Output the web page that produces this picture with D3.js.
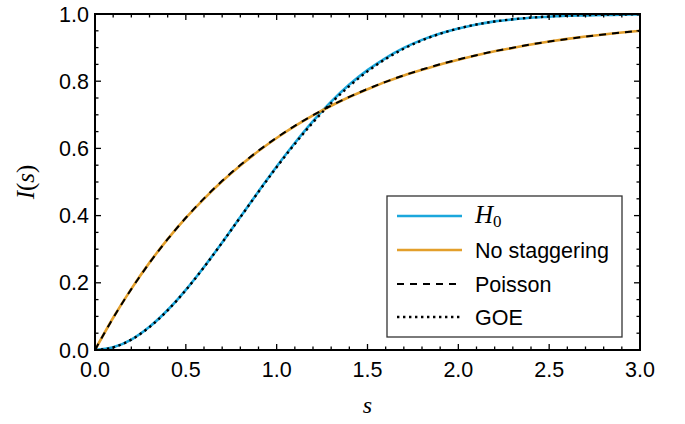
<!DOCTYPE html>
<html><head><meta charset="utf-8">
<script src="https://cdn.jsdelivr.net/npm/d3@7"></script>
<style>body{margin:0;background:#fff}svg{display:block}</style>
</head><body>
<svg id="c" width="685" height="424"></svg>
<script>
const sValues = [0,0.1,0.2,0.3,0.4,0.5,0.6,0.7,0.8,0.9,1.0,1.1,1.2,1.3,1.4,1.5,1.6,1.7,1.8,1.9,2.0,2.1,2.2,2.3,2.4,2.5,2.6,2.7,2.8,2.9,3.0];
const h0Values = [0,0.008,0.031,0.069,0.119,0.179,0.247,0.320,0.396,0.472,0.546,0.616,0.681,0.739,0.790,0.833,0.869,0.899,0.923,0.942,0.957,0.969,0.978,0.984,0.989,0.992,0.995,0.996,0.997,0.998,0.999];
const noStagValues = [0,0.096,0.182,0.260,0.330,0.393,0.450,0.502,0.549,0.592,0.631,0.666,0.698,0.727,0.753,0.776,0.798,0.817,0.834,0.850,0.864,0.877,0.889,0.899,0.909,0.918,0.926,0.933,0.939,0.945,0.950];
const poissonValues = [0,0.0952,0.1813,0.2592,0.3297,0.3935,0.4512,0.5034,0.5507,0.5934,0.6321,0.6671,0.6988,0.7275,0.7534,0.7769,0.7981,0.8173,0.8347,0.8504,0.8647,0.8775,0.8892,0.8997,0.9093,0.9179,0.9257,0.9328,0.9392,0.9450,0.9502];
const goeValues = [0,0.0078,0.0309,0.0682,0.1181,0.1783,0.2463,0.3195,0.3951,0.4707,0.5441,0.6134,0.6773,0.7348,0.7855,0.8292,0.8661,0.8967,0.9215,0.9413,0.9568,0.9687,0.9777,0.9843,0.9892,0.9926,0.9951,0.9967,0.9979,0.9986,0.9991];
const xTicks = [0,0.5,1.0,1.5,2.0,2.5,3.0];
const yTicks = [0,0.2,0.4,0.6,0.8,1.0];
const legendLabels = ["H0","No staggering","Poisson","GOE"];

const svg = d3.select("#c");
const L=95, R=640, T=14, B=350;
const x = d3.scaleLinear().domain([0,3]).range([L,R]);
const y = d3.scaleLinear().domain([0,1]).range([B,T]);

svg.append("clipPath").attr("id","clip").append("rect")
  .attr("x",L).attr("y",T).attr("width",R-L).attr("height",B-T);

const g = svg.append("g").attr("clip-path","url(#clip)");
const line = d3.line().x(d=>x(d[0])).y(d=>y(d[1])).curve(d3.curveMonotoneX);
const zip = v => sValues.map((s,i)=>[s,v[i]]);

const series = [
  {v:h0Values, stroke:"#1ba7dc", w:2.6, dash:null},
  {v:noStagValues, stroke:"#e39f2b", w:2.6, dash:null},
  {v:poissonValues, stroke:"#000", w:2, dash:"7,6"},
  {v:goeValues, stroke:"#000", w:2.4, dash:"2.4,3.6"}
];
series.forEach(s=>{
  g.append("path").datum(zip(s.v)).attr("d",line)
   .attr("fill","none").attr("stroke",s.stroke).attr("stroke-width",s.w)
   .attr("stroke-dasharray",s.dash);
});

const ax = svg.append("g").attr("stroke","#000");
const minorX = d3.range(0,3.0001,0.1), minorY = d3.range(0,1.0001,0.05);
minorX.forEach(v=>{
  const major = Math.abs(v*2-Math.round(v*2))<1e-6;
  const len = major?6:3.5;
  ax.append("line").attr("x1",x(v)).attr("x2",x(v)).attr("y1",B).attr("y2",B-len).attr("stroke-width",1.3);
  ax.append("line").attr("x1",x(v)).attr("x2",x(v)).attr("y1",T).attr("y2",T+len).attr("stroke-width",1.3);
});
minorY.forEach(v=>{
  const major = Math.abs(v*5-Math.round(v*5))<1e-6;
  const len = major?6:3.5;
  ax.append("line").attr("y1",y(v)).attr("y2",y(v)).attr("x1",L).attr("x2",L+len).attr("stroke-width",1.3);
  ax.append("line").attr("y1",y(v)).attr("y2",y(v)).attr("x1",R).attr("x2",R-len).attr("stroke-width",1.3);
});
svg.append("rect").attr("x",L).attr("y",T).attr("width",R-L).attr("height",B-T)
  .attr("fill","none").attr("stroke","#000").attr("stroke-width",2);

const font = "Liberation Sans, Arial, sans-serif";
svg.append("g").selectAll("text").data(xTicks).join("text")
  .attr("x",d=>x(d)).attr("y",B+27).attr("text-anchor","middle")
  .attr("font-family",font).attr("font-size",21.5).text(d=>d.toFixed(1));
svg.append("g").selectAll("text").data(yTicks).join("text")
  .attr("x",L-6).attr("y",d=>y(d)+7.5).attr("text-anchor","end")
  .attr("font-family",font).attr("font-size",21.5).text(d=>d.toFixed(1));

const serif = "Liberation Serif, Times New Roman, serif";
svg.append("text").attr("x",x(1.5)).attr("y",413).attr("text-anchor","middle")
  .attr("font-family",serif).attr("font-style","italic").attr("font-size",24).text("s");
const yl = svg.append("text").attr("transform",`translate(34,${(T+B)/2}) rotate(-90)`)
  .attr("text-anchor","middle").attr("font-family",serif).attr("font-size",25);
yl.append("tspan").attr("font-style","italic").text("I");
yl.append("tspan").text("(");
yl.append("tspan").attr("font-style","italic").text("s");
yl.append("tspan").text(")");

const lg = svg.append("g");
lg.append("rect").attr("x",387).attr("y",196).attr("width",235).attr("height",141)
  .attr("fill","#fff").attr("stroke","#333").attr("stroke-width",1.3);
const rowsY = [216,250,284,317];
series.forEach((s,i)=>{
  lg.append("line").attr("x1",397).attr("x2",462).attr("y1",rowsY[i]).attr("y2",rowsY[i])
    .attr("stroke",s.stroke).attr("stroke-width",s.w).attr("stroke-dasharray",s.dash);
  if(i===0){
    const t = lg.append("text").attr("x",475).attr("y",rowsY[i]+7).attr("font-family",serif).attr("font-size",25);
    t.append("tspan").attr("font-style","italic").text("H");
    t.append("tspan").attr("font-size",17).attr("dy",4).text("0");
  } else {
    lg.append("text").attr("x",475).attr("y",rowsY[i]+7.5).attr("font-family",font).attr("font-size",21.5).text(legendLabels[i]);
  }
});
</script>
</body></html>
